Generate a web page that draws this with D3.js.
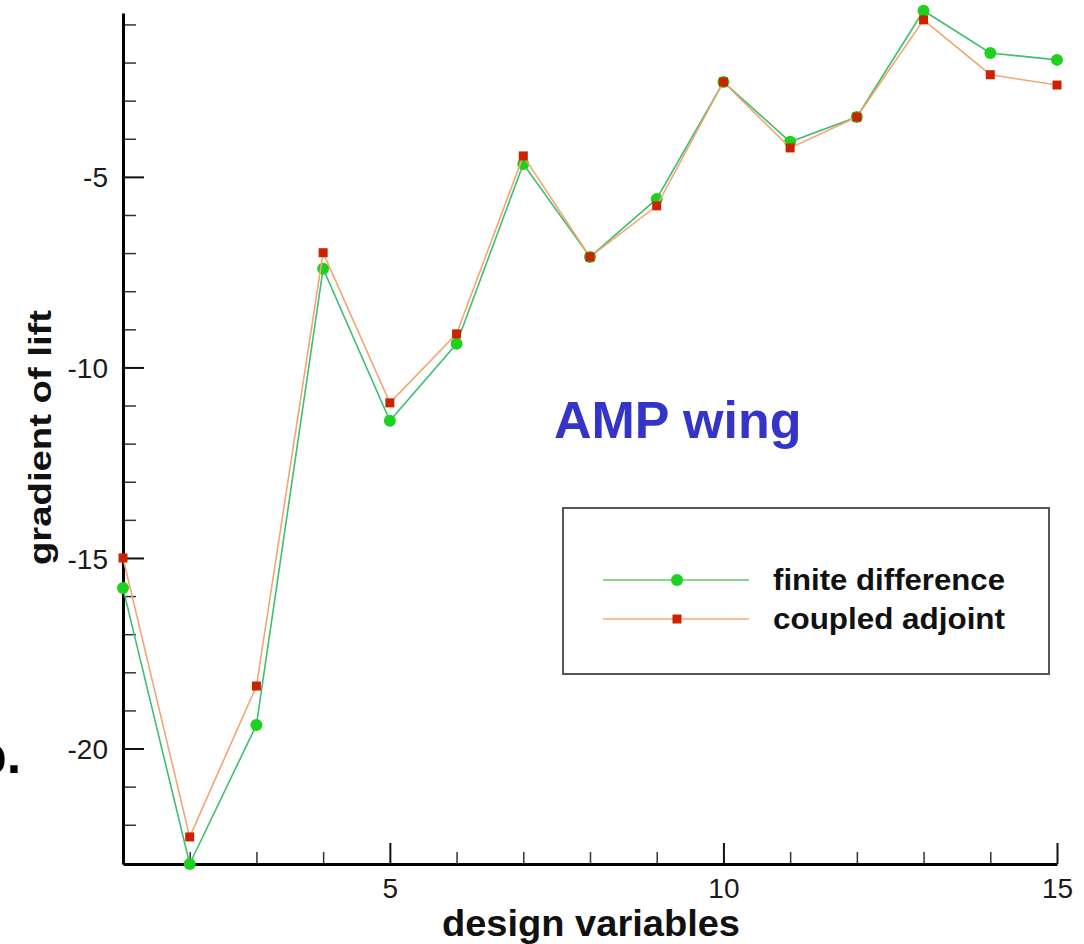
<!DOCTYPE html>
<html>
<head>
<meta charset="utf-8">
<script src="https://cdn.jsdelivr.net/npm/d3@7"></script>
<style>
  html, body { margin: 0; padding: 0; background: #fff; }
  svg { display: block; font-family: "Liberation Sans", Arial, Helvetica, sans-serif; }
</style>
</head>
<body>
<svg id="chart" width="1084" height="944"></svg>
<script>
// ---- data ----
const designVariables = [1, 2, 3, 4, 5, 6, 7, 8, 9, 10, 11, 12, 13, 14, 15];
const finiteDifference = [-15.79, -23.03, -19.38, -7.41, -11.40, -9.38, -4.66, -7.10, -5.58, -2.51, -4.08, -3.43, -0.64, -1.75, -1.93];
const coupledAdjoint  = [-15.00, -22.32, -18.36, -6.99, -10.93, -9.12, -4.45, -7.10, -5.76, -2.51, -4.24, -3.43, -0.88, -2.32, -2.59];
const xMajorTicks = [5, 10, 15];
const xMinorTicks = [2, 3, 4, 6, 7, 8, 9, 11, 12, 13, 14];
const yMajorTicks = [-5, -10, -15, -20];
const yMinorTicks = [-1, -2, -3, -4, -6, -7, -8, -9, -11, -12, -13, -14, -16, -17, -18, -19, -21, -22];
const seriesNames = ["finite difference", "coupled adjoint"];

// ---- layout ----
const svg = d3.select("#chart");
const plotLeft = 123, plotRight = 1057, plotTop = 13, plotBottom = 864;
const x = d3.scaleLinear().domain([1, 15]).range([plotLeft, plotRight]);
const y = d3.scaleLinear().domain([-23.03, -0.70]).range([plotBottom, plotTop]);

const greenLine = "#3fbf72", greenMark = "#1fd11f";
const orangeLine = "#f3a672", redMark = "#cc2200";
const tickFont = 28;

// ---- axes ----
function styleAxis(g) {
  g.select(".domain").attr("stroke", "#000").attr("stroke-width", 3);
  g.selectAll(".tick line").attr("stroke", "#111").attr("stroke-width", 2);
  g.selectAll(".tick text").attr("fill", "#1a1a1a").attr("font-size", tickFont)
    .attr("font-family", "Liberation Sans, Arial, sans-serif");
}

// x minor
svg.append("g").attr("transform", `translate(0,${plotBottom})`)
  .call(d3.axisBottom(x).tickValues(xMinorTicks).tickSize(-12).tickFormat(""))
  .call(g => { g.select(".domain").remove(); g.selectAll(".tick line").attr("stroke", "#333").attr("stroke-width", 1.5); });
// y minor
svg.append("g").attr("transform", `translate(${plotLeft},0)`)
  .call(d3.axisLeft(y).tickValues(yMinorTicks).tickSize(-13).tickFormat(""))
  .call(g => { g.select(".domain").remove(); g.selectAll(".tick line").attr("stroke", "#333").attr("stroke-width", 1.5); });

// x major
svg.append("g").attr("transform", `translate(0,${plotBottom})`)
  .call(d3.axisBottom(x).tickValues(xMajorTicks).tickSizeInner(-21).tickSizeOuter(0).tickPadding(0).tickFormat(d3.format("d")))
  .call(styleAxis)
  .call(g => g.selectAll(".tick text").attr("dy", null).attr("y", 34));
// y major
svg.append("g").attr("transform", `translate(${plotLeft},0)`)
  .call(d3.axisLeft(y).tickValues(yMajorTicks).tickSizeInner(-21).tickSizeOuter(0).tickPadding(0).tickFormat(d => "-" + Math.abs(d)))
  .call(styleAxis)
  .call(g => g.selectAll(".tick text").attr("x", -15).attr("dy", "0.36em"));

// ---- series ----
const line = d3.line().x((d, i) => x(designVariables[i])).y(d => y(d));

svg.append("path").datum(finiteDifference)
  .attr("d", line).attr("fill", "none").attr("stroke", greenLine).attr("stroke-width", 1.6);
svg.append("g").selectAll("circle").data(finiteDifference).join("circle")
  .attr("cx", (d, i) => x(designVariables[i])).attr("cy", d => y(d)).attr("r", 6)
  .attr("fill", greenMark);

svg.append("path").datum(coupledAdjoint)
  .attr("d", line).attr("fill", "none").attr("stroke", orangeLine).attr("stroke-width", 1.6);
svg.append("g").selectAll("rect").data(coupledAdjoint).join("rect")
  .attr("x", (d, i) => x(designVariables[i]) - 4.5).attr("y", d => y(d) - 4.5)
  .attr("width", 9).attr("height", 9).attr("fill", redMark);

// ---- titles ----
svg.append("text").attr("x", 442).attr("y", 936)
  .attr("font-size", 36).attr("font-weight", "bold").attr("fill", "#111")
  .attr("textLength", 298).attr("lengthAdjust", "spacingAndGlyphs")
  .text("design variables");

svg.append("text").attr("transform", "translate(51,565) rotate(-90)")
  .attr("font-size", 31).attr("font-weight", "bold").attr("fill", "#111")
  .attr("textLength", 255).attr("lengthAdjust", "spacingAndGlyphs")
  .text("gradient of lift");

svg.append("text").attr("x", 554).attr("y", 438)
  .attr("font-size", 52).attr("font-weight", "bold").attr("fill", "#3434c8")
  .text("AMP wing");

svg.append("text").attr("x", -25).attr("y", 773)
  .attr("font-size", 52).attr("font-weight", "bold").attr("fill", "#000")
  .text("b.");

// ---- legend ----
const lg = svg.append("g");
lg.append("rect").attr("x", 563).attr("y", 508).attr("width", 486).attr("height", 166)
  .attr("fill", "#fff").attr("stroke", "#555").attr("stroke-width", 2);
const legendRows = [
  { name: seriesNames[0], line: "#8ad68a", mark: greenMark, shape: "circle", yy: 580 },
  { name: seriesNames[1], line: "#f8c196", mark: redMark, shape: "square", yy: 619 }
];
legendRows.forEach(r => {
  lg.append("line").attr("x1", 603).attr("x2", 749).attr("y1", r.yy).attr("y2", r.yy)
    .attr("stroke", r.line).attr("stroke-width", 2);
  if (r.shape === "circle") {
    lg.append("circle").attr("cx", 677).attr("cy", r.yy).attr("r", 6).attr("fill", r.mark);
  } else {
    lg.append("rect").attr("x", 672.5).attr("y", r.yy - 4.5).attr("width", 9).attr("height", 9).attr("fill", r.mark);
  }
  lg.append("text").attr("x", 773).attr("y", r.yy + 10)
    .attr("font-size", 29).attr("font-weight", "bold").attr("fill", "#111")
    .attr("textLength", 232).attr("lengthAdjust", "spacingAndGlyphs")
    .text(r.name);
});
</script>
</body>
</html>
